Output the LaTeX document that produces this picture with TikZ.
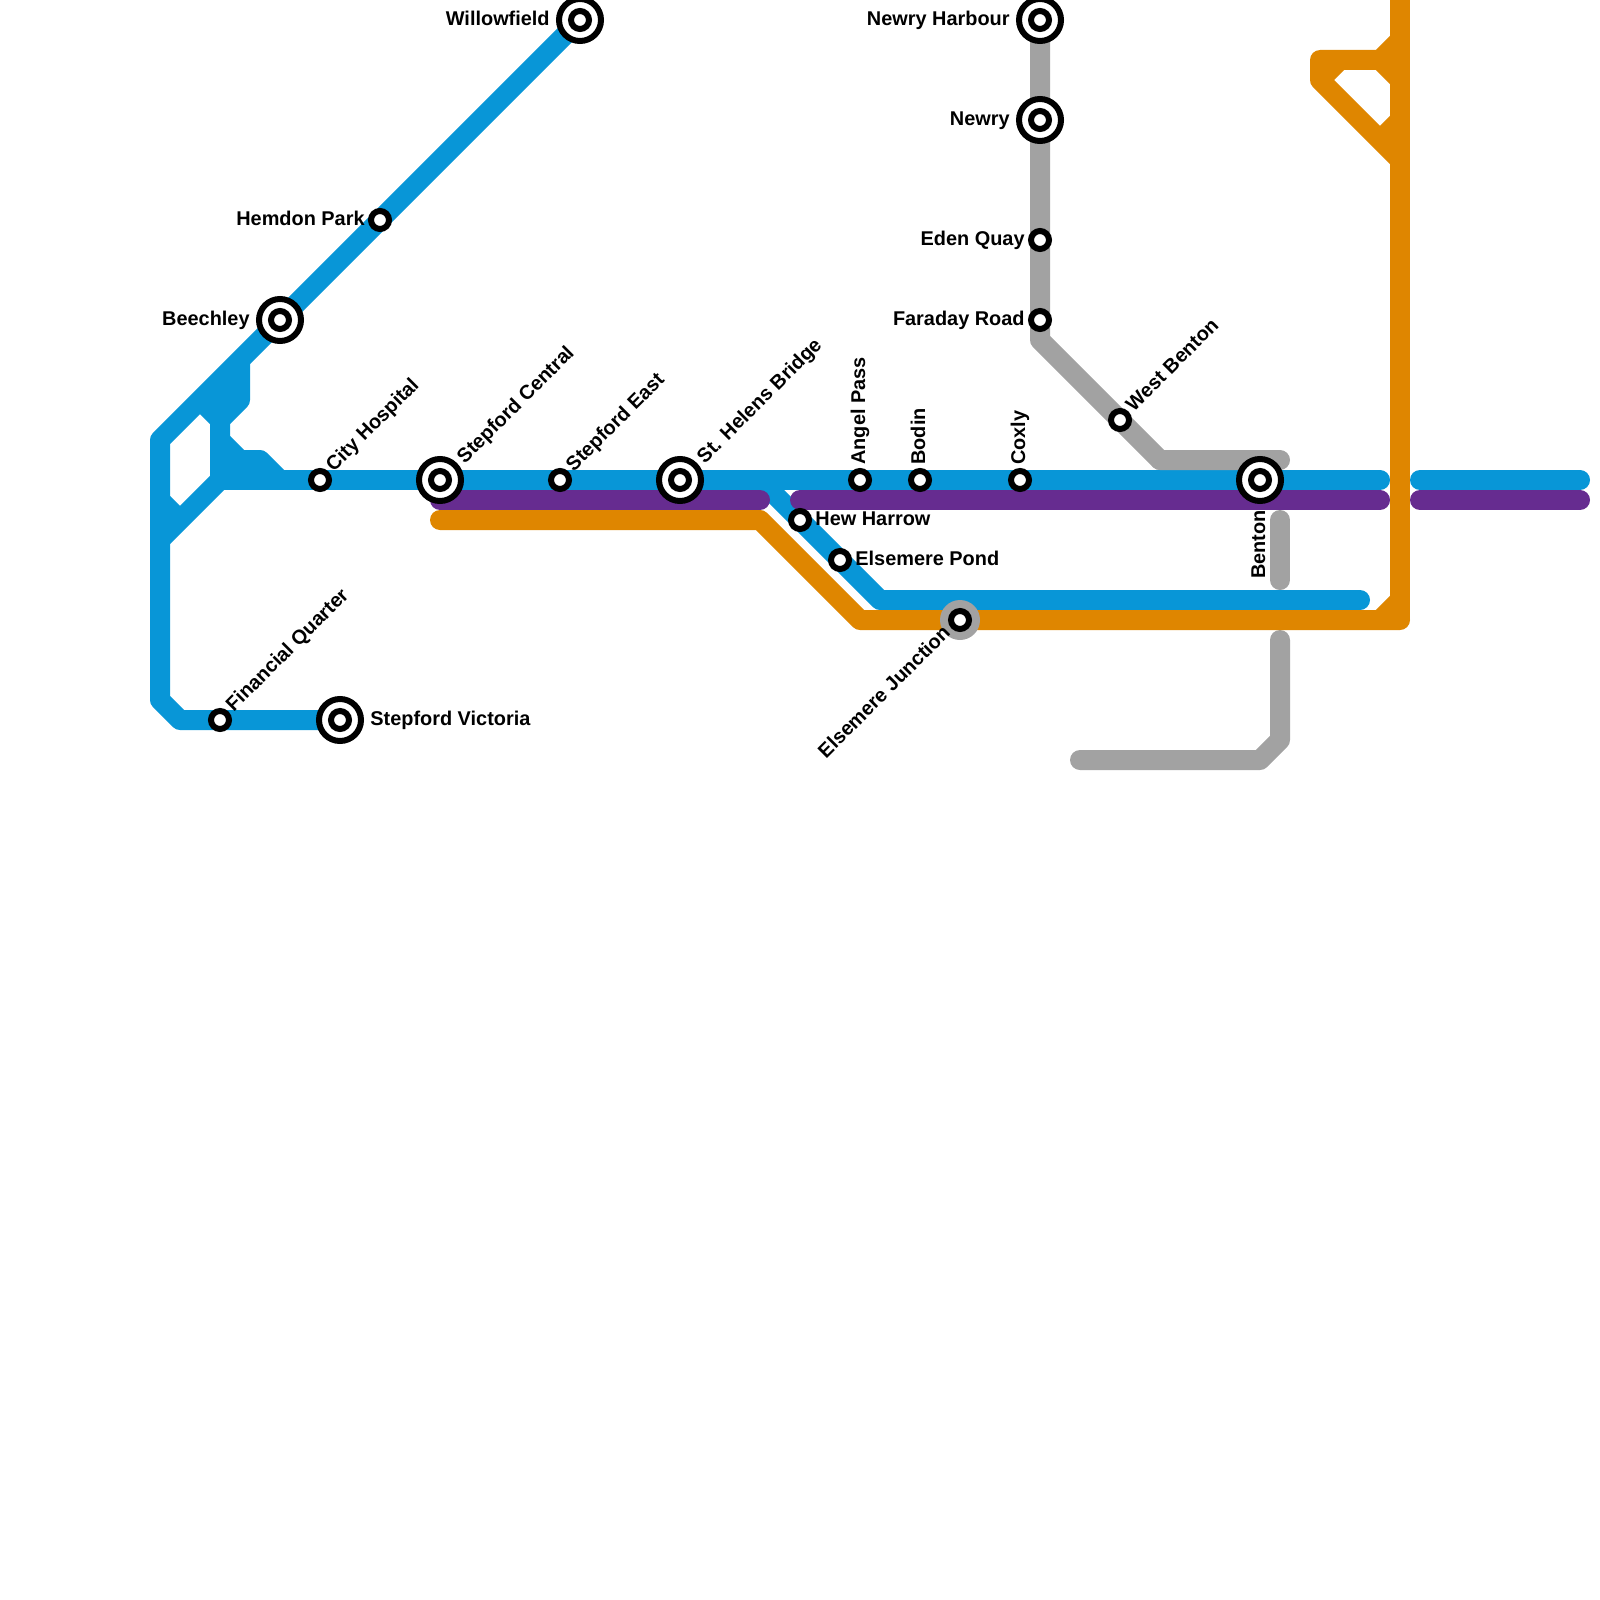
\documentclass[tikz,border=0pt]{standalone}
\usepackage{fontspec}
\setmainfont{Liberation Sans}
\usetikzlibrary{positioning, calc}

\definecolor{lnblue}{HTML}{0896D7}
\definecolor{lnpurple}{HTML}{662C90}
\definecolor{lnorange}{HTML}{DF8600}
\definecolor{lngrey}{HTML}{A2A2A2}

\begin{document}
\begin{tikzpicture}[
    x=0.5pt, y=-0.5pt,
    font=\fontsize{9.95}{12}\selectfont\bfseries,
    ln/.style={line width=10pt, line join=round},
    lnb/.style={ln, lnblue},
    lnp/.style={ln, lnpurple, line cap=round},
    lno/.style={ln, lnorange},
    lng/.style={ln, lngrey},
    stn/.style={circle, draw=black, fill=white, line width=3pt, outer sep=0pt, minimum size=9pt, inner sep=0pt},
    xstn/.style={circle, draw=black, fill=white, line width=3pt, outer sep=0pt, minimum size=21pt, inner sep=0pt},
    lab/.style={inner sep=0pt, text=black, text height=7.2pt, text depth=2.1pt},
    dlab/.style={lab, rotate=45, anchor=west},
    ulab/.style={lab, rotate=90, anchor=west}
  ]
    \useasboundingbox (0,0) rectangle (1600,1600);
    % ---- stations ----
    \coordinate (willow) at (580,20);
    \coordinate (hemdon) at (380,220);
    \coordinate (beech) at (280,320);
    \coordinate (city) at (320,480);
    \coordinate (central) at (440,480);
    \coordinate (east) at (560,480);
    \coordinate (helens) at (680,480);
    \coordinate (harrow) at (800,520);
    \coordinate (pond) at (840,560);
    \coordinate (angel) at (860,480);
    \coordinate (bodin) at (920,480);
    \coordinate (coxly) at (1020,480);
    \coordinate (benton) at (1260,480);
    \coordinate (junction) at (960,620);
    \coordinate (finance) at (220,720);
    \coordinate (victoria) at (340,720);
    \coordinate (harbour) at (1040,20);
    \coordinate (newry) at (1040,120);
    \coordinate (eden) at (1040,240);
    \coordinate (faraday) at (1040,320);
    \coordinate (wbenton) at (1120,420);
    % ---- free ends of the lines ----
    \coordinate (bwest) at (220,480);
    \coordinate (bsplit) at (760,480);
    \coordinate (bend) at (1380,480);
    \coordinate (bfar) at (1420,480);
    \coordinate (bfarend) at (1580,480);
    \coordinate (blow) at (880,600);
    \coordinate (blowend) at (1360,600);
    \coordinate (pstart) at (440,500);
    \coordinate (pstop) at (760,500);
    \coordinate (pnext) at (800,500);
    \coordinate (pend) at (1380,500);
    \coordinate (pfar) at (1420,500);
    \coordinate (pfarend) at (1580,500);
    \coordinate (ostart) at (440,520);
    \coordinate (obend) at (760,520);
    \coordinate (olow) at (860,620);
    \coordinate (ocorner) at (1400,620);
    \coordinate (otop) at (1400,0);
    \coordinate (gturn) at (1040,340);
    \coordinate (gflat) at (1160,460);
    \coordinate (gend) at (1280,460);
    \coordinate (gmid) at (1280,520);
    \coordinate (gmidend) at (1280,580);
    \coordinate (gdown) at (1280,640);
    \coordinate (gknee) at (1280,740);
    \coordinate (gfoot) at (1260,760);
    \coordinate (gfootend) at (1080,760);
    % ---- blue ----
    \draw[lnb] (willow) -- (160,440) -- (160,700) -- (180,720) -- (victoria);
    \draw[lnb] (160,540) -- (bwest);
    \draw[lnb] (160,500) -- (180,520);
    \draw[lnb] (200,400) -- (220,420) -- (bwest);
    \draw[lnb] (200,400) -- (240,400);
    \draw[lnb] (220,400) -- (240,380);
    \draw[lnb] (240,360) -- (240,400) -- (220,420);
    \draw[lnb] (220,440) -- (240,460) -- (260,460) -- (280,480);
    \draw[lnb] (220,460) -- (240,460);
    \draw[lnb] (bwest) -- (bsplit);
    \draw[lnb, line cap=round] (bsplit) -- (bend);
    \draw[lnb, line cap=round] (bfar) -- (bfarend);
    \draw[lnb, line cap=round] (bsplit) -- (blow) -- (blowend);
    % ---- grey ----
    \draw[lng] (harbour) -- (gturn) -- (gflat) -- (gend);
    \draw[lng, line cap=round] (gflat) -- (gend);
    \draw[lng, line cap=round] (gmid) -- (gmidend);
    \draw[lng, line cap=round] (gdown) -- (gknee) -- (gfoot) -- (gfootend);
    % ---- purple ----
    \draw[lnp] (pstart) -- (pstop);
    \draw[lnp] (pnext) -- (pend);
    \draw[lnp] (pfar) -- (pfarend);
    % ---- orange ----
    \draw[lno, line cap=round] (ostart) -- (obend) -- (olow) -- (ocorner);
    \draw[lno] (ocorner) -- (otop);
    \draw[lno] (1380,620) -- (1400,600);
    \draw[lno] (1400,40) -- (1380,60) -- (1320,60) -- (1320,80) -- (1400,160);
    \draw[lno] (1320,80) -- (1340,60);
    \draw[lno] (1380,60) -- (1400,80);
    \draw[lno] (1380,140) -- (1400,120);
    % ---- station marks ----
    \node[circle, fill=lngrey, minimum size=20pt, outer sep=0pt, inner sep=0pt] (njunctionbg) at (junction) {};
    \node[xstn] (nwillow) at (willow) {};
    \node[stn] (nwillowin) at (willow) {};
    \node[stn] (nhemdon) at (hemdon) {};
    \node[xstn] (nbeech) at (beech) {};
    \node[stn] (nbeechin) at (beech) {};
    \node[stn] (ncity) at (city) {};
    \node[xstn] (ncentral) at (central) {};
    \node[stn] (ncentralin) at (central) {};
    \node[stn] (neast) at (east) {};
    \node[xstn] (nhelens) at (helens) {};
    \node[stn] (nhelensin) at (helens) {};
    \node[stn] (nharrow) at (harrow) {};
    \node[stn] (npond) at (pond) {};
    \node[stn] (nangel) at (angel) {};
    \node[stn] (nbodin) at (bodin) {};
    \node[stn] (ncoxly) at (coxly) {};
    \node[xstn] (nbenton) at (benton) {};
    \node[stn] (nbentonin) at (benton) {};
    \node[stn] (njunction) at (junction) {};
    \node[stn] (nfinance) at (finance) {};
    \node[xstn] (nvictoria) at (victoria) {};
    \node[stn] (nvictoriain) at (victoria) {};
    \node[xstn] (nharbour) at (harbour) {};
    \node[stn] (nharbourin) at (harbour) {};
    \node[xstn] (nnewry) at (newry) {};
    \node[stn] (nnewryin) at (newry) {};
    \node[stn] (neden) at (eden) {};
    \node[stn] (nfaraday) at (faraday) {};
    \node[stn] (nwbenton) at (wbenton) {};
    % ---- labels ----
    \node[lab, anchor=east] (lwillow) at ([xshift=-15pt]willow) {Willowfield};
    \node[lab, anchor=east] (lhemdon) at ([xshift=-7.5pt]hemdon) {Hemdon Park};
    \node[lab, anchor=east] (lbeech) at ([xshift=-15pt]beech) {Beechley};
    \node[dlab] (lcity) at ([xshift=5pt,yshift=5.5pt]city) {City Hospital};
    \node[dlab] (lcentral) at ([xshift=10.5pt,yshift=9.5pt]central) {Stepford Central};
    \node[dlab] (least) at ([xshift=5pt,yshift=5.5pt]east) {Stepford East};
    \node[dlab] (lhelens) at ([xshift=10.5pt,yshift=9.5pt]helens) {St. Helens Bridge};
    \node[lab, anchor=west] (lharrow) at ([xshift=7.5pt]harrow) {Hew Harrow};
    \node[lab, anchor=west] (lpond) at ([xshift=7.5pt]pond) {Elsemere Pond};
    \node[ulab] (langel) at ([yshift=7.5pt]angel) {Angel Pass};
    \node[ulab] (lbodin) at ([yshift=7.5pt]bodin) {Bodin};
    \node[ulab] (lcoxly) at ([yshift=7.5pt]coxly) {Coxly};
    \node[lab, rotate=90, anchor=east] (lbenton) at ([yshift=-15pt]benton) {Benton};
    \node[lab, rotate=45, anchor=east] (ljunction) at ([xshift=-6pt,yshift=-5pt]junction) {Elsemere Junction};
    \node[dlab] (lfinance) at ([xshift=5pt,yshift=5.5pt]finance) {Financial Quarter};
    \node[lab, anchor=west] (lvictoria) at ([xshift=15pt]victoria) {Stepford Victoria};
    \node[lab, anchor=east] (lharbour) at ([xshift=-15pt]harbour) {Newry Harbour};
    \node[lab, anchor=east] (lnewry) at ([xshift=-15pt]newry) {Newry};
    \node[lab, anchor=east] (leden) at ([xshift=-7.5pt]eden) {Eden Quay};
    \node[lab, anchor=east] (lfaraday) at ([xshift=-7.5pt]faraday) {Faraday Road};
    \node[dlab] (lwbenton) at ([xshift=5pt,yshift=5.5pt]wbenton) {West Benton};
  \end{tikzpicture}
\end{document}
